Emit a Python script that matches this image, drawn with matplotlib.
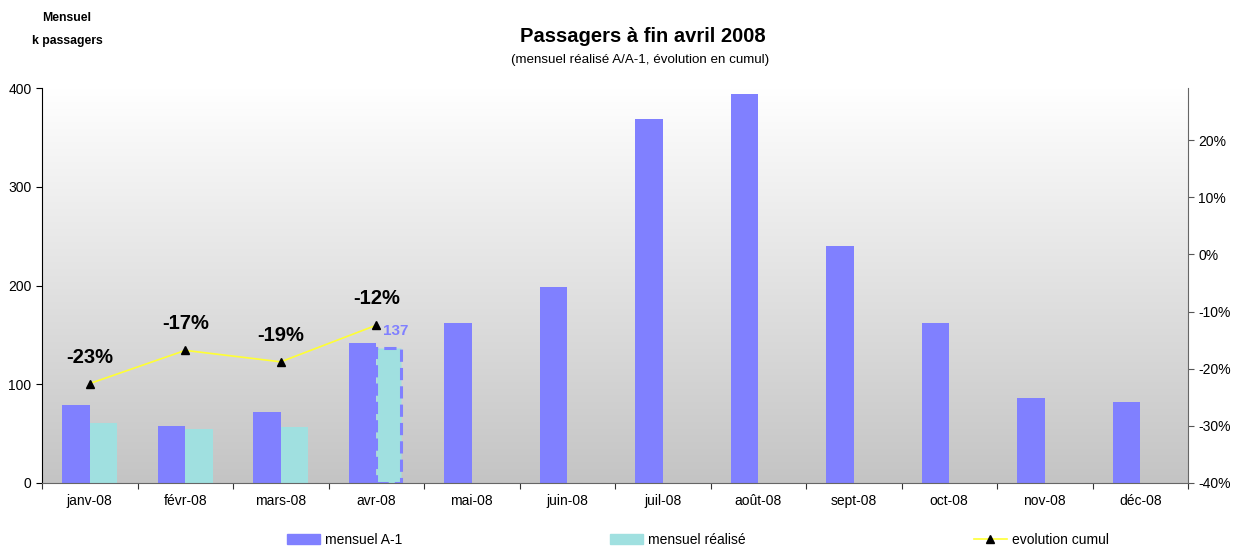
import matplotlib
matplotlib.use("Agg")
import matplotlib.pyplot as plt
import numpy as np
from matplotlib.patches import Patch
from matplotlib.lines import Line2D
from matplotlib.colors import LinearSegmentedColormap

plt.rcParams['font.family'] = ['Liberation Sans', 'DejaVu Sans']

months = ['janv-08', 'févr-08', 'mars-08', 'avr-08', 'mai-08', 'juin-08',
          'juil-08', 'août-08', 'sept-08', 'oct-08', 'nov-08', 'déc-08']
mensuel_a1 = [79, 58, 72, 142, 162, 198, 369, 394, 240, 162, 86, 82]
mensuel_realise = [61, 55, 57, 137]
evolution_cumul = [-0.226, -0.168, -0.188, -0.124]
evolution_labels = ['-23%', '-17%', '-19%', '-12%']

blue = '#8080FF'
cyan = '#A0E0E0'

fig = plt.figure(figsize=(12.36, 5.46), dpi=100)
ax = fig.add_axes([42/1236, 1-483/546, (1188-42)/1236, (483-88)/546])

# gradient background
cmap = LinearSegmentedColormap.from_list('g', ['#C4C4C4', '#FFFFFF'])
grad = np.linspace(0, 1, 256).reshape(-1, 1)
ax.imshow(grad, aspect='auto', cmap=cmap, origin='lower',
          extent=[0, 1, 0, 1], transform=ax.transAxes, zorder=0)

x = np.arange(len(months))
w = 0.29
ax.bar(x - w/2, mensuel_a1, width=w, color=blue, zorder=2)
xr = np.arange(len(mensuel_realise))
bars = ax.bar(xr + w/2, mensuel_realise, width=w, color=cyan, zorder=2)
# last realised bar highlighted with dashed border
bars[-1].set_edgecolor(blue)
bars[-1].set_linestyle((0, (4, 2)))
bars[-1].set_linewidth(2.2)
bars[-1].set_width(w * 0.88)
ax.annotate(str(mensuel_realise[-1]), (xr[-1] + w/2, mensuel_realise[-1]),
            xytext=(4, 7), textcoords='offset points', ha='center', va='bottom',
            color=blue, fontsize=11, fontweight='bold', zorder=5)

ax.set_xlim(-0.5, len(months) - 0.5)
ax.set_ylim(0, 400)
ax.set_yticks([0, 100, 200, 300, 400])
ax.set_xticks(np.arange(-0.5, len(months) + 0.5, 1))
ax.set_xticklabels([])
ax.set_xticks(x, minor=True)
ax.set_xticklabels(months, minor=True)
ax.tick_params(axis='x', which='minor', length=0, pad=8, labelsize=10)
ax.tick_params(axis='x', which='major', length=4, direction='out', color='#333333')
ax.tick_params(axis='y', labelsize=10, length=4, direction='out')
ax.spines['top'].set_visible(False)
ax.spines['right'].set_visible(False)
ax.spines['left'].set_color('black')
ax.spines['bottom'].set_color('#666666')

ax2 = ax.twinx()
ax2.plot(xr, evolution_cumul, color='#FFFF33', lw=1.2, marker='^',
         markersize=6, markerfacecolor='black', markeredgecolor='black', zorder=4)
for xi, v, lab in zip(xr, evolution_cumul, evolution_labels):
    ax2.annotate(lab, (xi, v), xytext=(0, 19), textcoords='offset points',
                 ha='center', va='center', fontsize=14.5, fontweight='bold')
ax2.set_ylim(-0.40, 0.291)
ax2.set_yticks([-0.4, -0.3, -0.2, -0.1, 0, 0.1, 0.2])
ax2.set_yticklabels(['-40%', '-30%', '-20%', '-10%', '0%', '10%', '20%'])
ax2.tick_params(axis='y', labelsize=10, length=4, direction='out', color='#555555')
ax2.spines['top'].set_visible(False)
ax2.spines['left'].set_visible(False)
ax2.spines['bottom'].set_visible(False)
ax2.spines['right'].set_color('#666666')

fig.text(643/1236, 1-36/546, 'Passagers à fin avril 2008', ha='center', va='center',
         fontsize=14.5, fontweight='bold')
fig.text(640/1236, 1-60/546, '(mensuel réalisé A/A-1, évolution en cumul)',
         ha='center', va='center', fontsize=9.6)
fig.text(67/1236, 1-18/546, 'Mensuel', ha='center', va='center', fontsize=8.8, fontweight='bold')
fig.text(67/1236, 1-41/546, 'k passagers', ha='center', va='center', fontsize=8.8, fontweight='bold')

# legend
handles = [Patch(color=blue), Patch(color=cyan),
           Line2D([], [], color='#FFFF33', lw=1.2, marker='^', markersize=6,
                  markerfacecolor='black', markeredgecolor='black')]
labels = ['mensuel A-1', 'mensuel réalisé', 'evolution cumul']
xs = [294, 617, 981]
for h, l, xp in zip(handles, labels, xs):
    fig.legend([h], [l], loc='center left', bbox_to_anchor=(xp/1236 - 0.006, 1-540/546),
               frameon=False, fontsize=10, handlelength=2.4, handletextpad=0.4,
               borderpad=0, borderaxespad=0)

fig.savefig('out.png', dpi=100, facecolor='white')
